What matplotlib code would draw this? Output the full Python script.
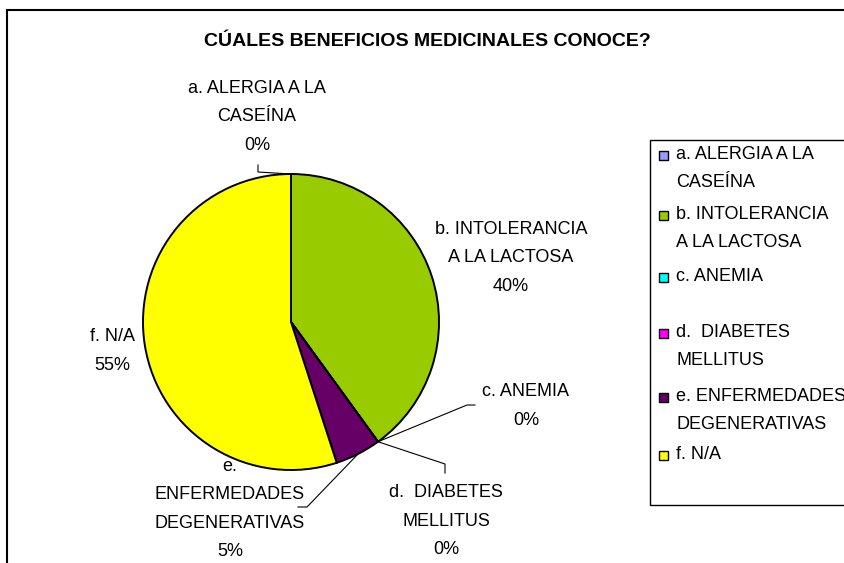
import numpy as np
import matplotlib
matplotlib.use('Agg')
import matplotlib.pyplot as plt
from matplotlib.patches import Rectangle

plt.rcParams['font.family'] = ['Liberation Sans', 'DejaVu Sans']

# ── data ─────────────────────────────────────────────────────────────────────
categories = ['a. ALERGIA A LA\nCASEÍNA', 'b. INTOLERANCIA\nA LA LACTOSA', 'c. ANEMIA',
              'd.  DIABETES\nMELLITUS', 'e.\nENFERMEDADES\nDEGENERATIVAS', 'f. N/A']
legend_labels = ['a. ALERGIA A LA\nCASEÍNA', 'b. INTOLERANCIA\nA LA LACTOSA', 'c. ANEMIA',
                 'd.  DIABETES\nMELLITUS', 'e. ENFERMEDADES\nDEGENERATIVAS', 'f. N/A']
values = [0, 40, 0, 0, 5, 55]
colors = ['#9999FF', '#99CC00', '#00FFFF', '#FF00FF', '#660066', '#FFFF00']

W, H = 844, 563
FS = 13
LS = 1.85
fig = plt.figure(figsize=(W / 100, H / 100), dpi=100)

def fx(px):
    return px / W

def fy(py):
    return 1 - py / H

# ── outer frame (cut at right / bottom like the reference) ───────────────────
fig.add_artist(Rectangle((fx(7), fy(620)), fx(900), fy(10) - fy(620),
                         transform=fig.transFigure, fill=False,
                         edgecolor='black', linewidth=1.5, clip_on=False))

fig.text(fx(427), fy(42), 'CÚALES BENEFICIOS MEDICINALES CONOCE?',
         ha='center', va='center', fontsize=14, fontweight='bold')

# ── pie ──────────────────────────────────────────────────────────────────────
cx, cy, r = 291, 322, 148
ax = fig.add_axes([fx(cx - r), fy(cy + r), 2 * r / W, 2 * r / H])
ax.pie(values, colors=colors, startangle=90, counterclock=False, radius=1,
       wedgeprops=dict(edgecolor='black', linewidth=1.4))
ax.set_xlim(-1, 1)
ax.set_ylim(-1, 1)
ax.set_aspect('equal')
ax.axis('off')

def d(px, py):
    return ((px - cx) / r, (cy - py) / r)

# label centre + leader elbow/end (pixel layout)
label_pos = [(257, 117), (511, 258), (526, 406), (446, 521), (230, 509), (112, 351)]
leaders = {0: [(258, 172), (258, 165)],
           2: [(467, 405), (475, 405)],
           3: [(445, 464), (445, 473)],
           4: [(307, 507), (298, 507)]}

total = sum(values)
cum = np.cumsum([0] + values)
for i, (cat, v) in enumerate(zip(categories, values)):
    mid = (cum[i] + cum[i + 1]) / 2 / total
    ang = np.deg2rad(90 - 360 * mid)
    x0, y0 = np.cos(ang), np.sin(ang)
    lx, ly = d(*label_pos[i])
    ax.text(lx, ly, f'{cat}\n{v / total * 100:.0f}%', ha='center', va='center',
            fontsize=FS, linespacing=LS, clip_on=False)
    if i in leaders:
        pts = [(x0, y0)] + [d(*p) for p in leaders[i]]
        xs, ys = zip(*pts)
        ax.plot(xs, ys, color='black', lw=0.8, clip_on=False)

# ── legend ───────────────────────────────────────────────────────────────────
fig.add_artist(Rectangle((fx(650), fy(505)), fx(300), fy(140) - fy(505),
                         transform=fig.transFigure, facecolor='white',
                         edgecolor='black', linewidth=1.0, clip_on=False))
leg_y = [155, 215, 277, 333, 397, 455]
for lab, col, yy in zip(legend_labels, colors, leg_y):
    fig.add_artist(Rectangle((fx(659), fy(yy + 5)), fx(9), fy(yy - 4) - fy(yy + 5),
                             transform=fig.transFigure, facecolor=col,
                             edgecolor='black', linewidth=1.0))
    fig.text(fx(676), fy(yy - 9), lab, ha='left', va='top', fontsize=FS,
             linespacing=LS)

plt.savefig('out.png', dpi=100, facecolor='white')
plt.close()
